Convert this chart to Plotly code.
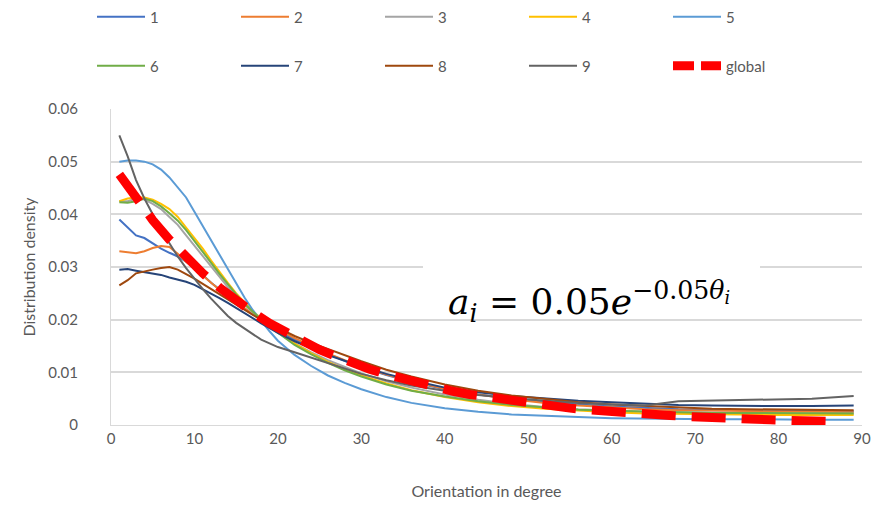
import plotly.graph_objects as go

X = [1, 2, 3, 4, 5, 6, 7, 8, 9, 10, 11, 12, 13, 14, 15, 16, 17, 18, 19, 20,
     22, 24, 26, 28, 30, 33, 36, 40, 44, 48, 52, 56, 60, 64, 68, 72, 76, 80, 84, 89]

s1 = [0.039, 0.0375, 0.036, 0.0355, 0.0345, 0.0335, 0.0327, 0.032, 0.031, 0.0298,
      0.0285, 0.027, 0.0258, 0.0245, 0.0233, 0.022, 0.021, 0.020, 0.019, 0.018,
      0.0162, 0.0148, 0.0135, 0.0122, 0.011, 0.0095, 0.0082, 0.0068, 0.0058, 0.005,
      0.0044, 0.0039, 0.0035, 0.0032, 0.003, 0.0029, 0.0028, 0.0027, 0.0027, 0.0026]
s2 = [0.033, 0.0328, 0.0326, 0.033, 0.0336, 0.034, 0.0338, 0.0325, 0.031, 0.0297,
      0.0283, 0.027, 0.0257, 0.0245, 0.0233, 0.0222, 0.0211, 0.0201, 0.0191, 0.0182,
      0.0165, 0.015, 0.0136, 0.0123, 0.0111, 0.0096, 0.0083, 0.0069, 0.0058, 0.0049,
      0.0042, 0.0037, 0.0033, 0.003, 0.0028, 0.0027, 0.0026, 0.0025, 0.0025, 0.0024]
s3 = [0.0425, 0.0425, 0.043, 0.0428, 0.042, 0.041, 0.0395, 0.038, 0.036, 0.034,
      0.032, 0.030, 0.028, 0.0262, 0.0245, 0.0228, 0.0213, 0.0198, 0.0186, 0.0175,
      0.0155, 0.0138, 0.0123, 0.011, 0.0098, 0.0083, 0.0071, 0.0058, 0.0048, 0.004,
      0.0034, 0.003, 0.0027, 0.0025, 0.0024, 0.0023, 0.0023, 0.0022, 0.0022, 0.0022]
s4 = [0.0425, 0.043, 0.0432, 0.0432, 0.0428, 0.042, 0.041, 0.0395, 0.0375, 0.0355,
      0.0335, 0.0312, 0.029, 0.027, 0.025, 0.0232, 0.0216, 0.0202, 0.0189, 0.0177,
      0.0155, 0.0136, 0.012, 0.0106, 0.0094, 0.0079, 0.0066, 0.0053, 0.0043, 0.0036,
      0.0031, 0.0027, 0.0024, 0.0022, 0.0021, 0.002, 0.002, 0.0019, 0.0019, 0.0019]
s5 = [0.050, 0.0502, 0.0502, 0.050, 0.0495, 0.0485, 0.047, 0.0452, 0.0432, 0.0405,
      0.0378, 0.035, 0.0322, 0.0295, 0.0268, 0.0242, 0.0218, 0.0197, 0.0178, 0.016,
      0.0133, 0.0112, 0.0094, 0.008, 0.0068, 0.0053, 0.0042, 0.0032, 0.0025, 0.002,
      0.0017, 0.0015, 0.0013, 0.0012, 0.0012, 0.0011, 0.0011, 0.001, 0.001, 0.001]
s6 = [0.0423, 0.0422, 0.0425, 0.043, 0.0425, 0.0415, 0.0402, 0.0388, 0.037, 0.035,
      0.033, 0.0308, 0.0287, 0.0267, 0.0248, 0.023, 0.0214, 0.02, 0.0187, 0.0175,
      0.0152, 0.0134, 0.0118, 0.0104, 0.0092, 0.0077, 0.0065, 0.0054, 0.0045, 0.0038,
      0.0033, 0.0029, 0.0027, 0.0025, 0.0024, 0.0023, 0.0023, 0.0022, 0.0022, 0.0022]
s7 = [0.0295, 0.0296, 0.0293, 0.029, 0.0288, 0.0285, 0.028, 0.0276, 0.0272, 0.0266,
      0.0258, 0.025, 0.0241, 0.0232, 0.0222, 0.0212, 0.0202, 0.0193, 0.0184, 0.0175,
      0.0159, 0.0146, 0.0133, 0.0122, 0.0111, 0.0097, 0.0085, 0.0071, 0.0062, 0.0055,
      0.005, 0.0046, 0.0043, 0.004, 0.0038, 0.0037, 0.0036, 0.0036, 0.0036, 0.0037]
s8 = [0.0265, 0.0275, 0.0288, 0.0292, 0.0295, 0.0298, 0.030, 0.0295, 0.0287, 0.0278,
      0.0268, 0.0258, 0.0248, 0.0238, 0.0228, 0.0218, 0.0209, 0.02, 0.0192, 0.0184,
      0.0169, 0.0156, 0.0144, 0.0132, 0.0121, 0.0105, 0.0092, 0.0077, 0.0065, 0.0056,
      0.0049, 0.0043, 0.0039, 0.0036, 0.0033, 0.0031, 0.003, 0.0029, 0.0028, 0.0028]
s9 = [0.055, 0.051, 0.0465, 0.043, 0.040, 0.037, 0.0345, 0.032, 0.0298, 0.0277,
      0.0258, 0.024, 0.0223, 0.0207, 0.0194, 0.0183, 0.0172, 0.0162, 0.0155, 0.0148,
      0.0138, 0.0128, 0.0117, 0.0107, 0.0097, 0.0085, 0.0075, 0.0065, 0.0057, 0.0051,
      0.0046, 0.0042, 0.0039, 0.0037, 0.0045, 0.0046, 0.0047, 0.0049, 0.005, 0.0055]

XG = [1, 3, 5, 7, 9, 11, 13, 15, 17, 19, 21, 23, 25, 27, 29, 31, 33, 35, 37, 39, 41, 43,
      45, 47, 49, 51, 53, 55, 57, 59, 61, 63, 65, 67, 69, 71, 73, 75, 77, 79, 81, 83, 85, 86]
glob = [0.0476, 0.0430, 0.0389, 0.0352, 0.0319, 0.0288, 0.0261, 0.0236, 0.0214, 0.0193,
        0.0175, 0.0158, 0.0143, 0.0130, 0.0117, 0.0106, 0.0096, 0.0087, 0.0079, 0.0071,
        0.0064, 0.0058, 0.0053, 0.0048, 0.0043, 0.0039, 0.0035, 0.0032, 0.0029, 0.0026,
        0.0024, 0.0021, 0.0019, 0.0018, 0.0016, 0.0014, 0.0013, 0.0012, 0.0011, 0.0010,
        0.0009, 0.0008, 0.0007, 0.0007]

names = ["1", "2", "3", "4", "5", "6", "7", "8", "9"]
series = [s1, s2, s3, s4, s5, s6, s7, s8, s9]
colors = ["#4472C4", "#ED7D31", "#A5A5A5", "#FFC000", "#5B9BD5",
          "#70AD47", "#264478", "#9E480E", "#636363"]

ytickvals = [0, 0.01, 0.02, 0.03, 0.04, 0.05, 0.06]
yticktext = ["0", "0.01", "0.02", "0.03", "0.04", "0.05", "0.06"]
xtickvals = [0, 10, 20, 30, 40, 50, 60, 70, 80, 90]

FONT = "Lato"
GRAY = "#595959"

fig = go.Figure()
for i, (n, s, c) in enumerate(zip(names, series, colors)):
    fig.add_trace(go.Scatter(x=X, y=s, name=n, mode="lines",
                             line=dict(color=c, width=2),
                             legend="legend" if i < 5 else "legend2"))
fig.add_trace(go.Scatter(x=XG, y=glob, name="global", mode="lines",
                         line=dict(color="#FF0000", width=9, dash="34px,16px"),
                         showlegend=False))
# legend-only entry for the global curve (shorter dashes, as in the reference key)
fig.add_trace(go.Scatter(x=[None], y=[None], name="global", mode="lines",
                         line=dict(color="#FF0000", width=9, dash="21px,7px"),
                         legend="legend2"))

L, R, T, B = 111, 18, 109, 85
W, H = 880, 510
pw, ph = W - L - R, H - T - B


def px_x(p):
    return (p - L) / pw


def px_y(p):
    return (H - B - p) / ph


leg_common = dict(orientation="h", xanchor="left", yanchor="middle",
                  entrywidth=81, entrywidthmode="pixels", itemwidth=48,
                  font=dict(family=FONT, size=15, color=GRAY),
                  bgcolor="rgba(0,0,0,0)", itemclick=False)

fig.update_layout(
    width=W, height=H,
    margin=dict(l=L, r=R, t=T, b=B, autoexpand=False),
    paper_bgcolor="white", plot_bgcolor="white",
    font=dict(family=FONT, color=GRAY),
    legend=dict(x=px_x(92), y=px_y(17), **leg_common),
    legend2=dict(x=px_x(92), y=px_y(66), **leg_common),
    xaxis=dict(range=[0, 90], tickvals=xtickvals, showgrid=False, zeroline=False,
               showline=True, linecolor="#D9D9D9", linewidth=1,
               tickfont=dict(family=FONT, size=15, color=GRAY),
               title=dict(text="Orientation in degree", standoff=39,
                          font=dict(family=FONT, size=16, color=GRAY))),
    yaxis=dict(range=[0, 0.06], tickvals=ytickvals, ticktext=yticktext,
               showgrid=True, gridcolor="#D9D9D9", gridwidth=2, zeroline=False,
               showline=True, linecolor="#D9D9D9", linewidth=1,
               ticklabelstandoff=29,
               tickfont=dict(family=FONT, size=15, color=GRAY),
               title=dict(text="Distribution density", standoff=8,
                          font=dict(family=FONT, size=16, color=GRAY))),
    shapes=[dict(type="rect", xref="paper", yref="paper", layer="above",
                 x0=px_x(423), x1=px_x(760), y0=px_y(317), y1=px_y(262),
                 fillcolor="white", line=dict(width=0))],
    annotations=[dict(
        xref="paper", yref="paper", x=px_x(589), y=px_y(302),
        xanchor="center", yanchor="middle", showarrow=False,
        text="<i>a<sub>i</sub></i>&nbsp;=&nbsp;0.05<i>e</i><sup>−0.05<i>θ<sub>i</sub></i></sup>",
        font=dict(family="DejaVu Serif", size=36, color="#000000"),
    )],
)

fig.write_html("out.html", config={"displayModeBar": False},
               post_script="document.body.style.margin='0';")
